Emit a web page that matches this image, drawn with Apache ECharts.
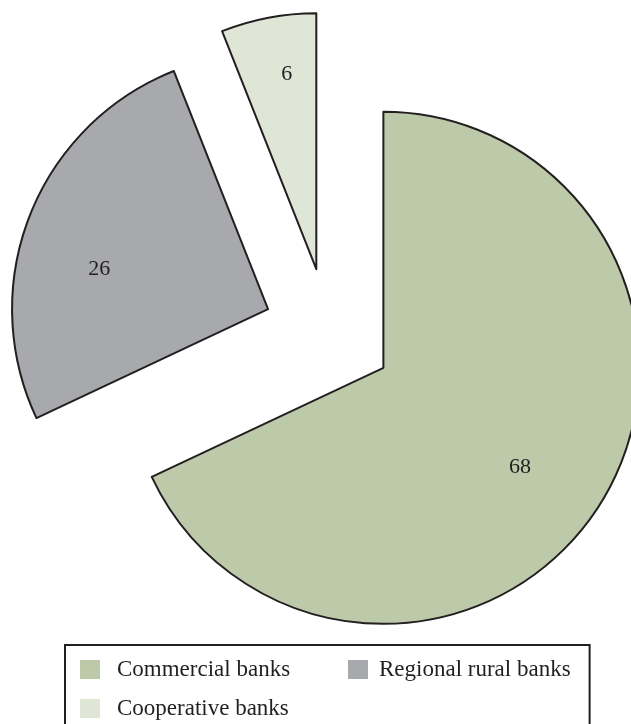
<!DOCTYPE html>
<html>
<head>
<meta charset="utf-8">
<script src="https://cdn.jsdelivr.net/npm/echarts@6/dist/echarts.min.js"></script>
<style>
  html, body { margin: 0; padding: 0; background: #ffffff; }
  #chart { width: 631px; height: 724px; }
</style>
</head>
<body>
<div id="chart"></div>
<script>
// Share of institutions, per cent
const categories = ['Commercial banks', 'Regional rural banks', 'Cooperative banks'];
const shares = [68, 26, 6];

// Styling
const sliceColors = ['#bccaa9', '#a8a9ad', '#dfe6d6'];
const labelShift = [[26, 29], [-47, 8], [-5, -66]];
const ink = '#231f20';
const serif = '"Liberation Serif", "Times New Roman", serif';

const chart = echarts.init(document.getElementById('chart'), null, { renderer: 'canvas' });

const pieData = categories.map((name, i) => ({
  name: name,
  value: shares[i],
  selected: true,
  itemStyle: { color: sliceColors[i] },
  select: { itemStyle: { color: sliceColors[i], borderColor: ink, borderWidth: 2 } }
}));

chart.setOption({
  animation: false,
  backgroundColor: '#ffffff',
  legend: {
    left: 65,
    top: 645,
    width: 530,
    orient: 'horizontal',
    padding: [13, 19, 24, 15],
    itemGap: 16,
    itemWidth: 20,
    itemHeight: 19,
    icon: 'rect',
    itemStyle: { borderWidth: 0 },
    borderColor: ink,
    borderWidth: 2,
    selectedMode: false,
    textStyle: {
      fontFamily: serif,
      fontSize: 23,
      lineHeight: 20,
      color: ink,
      padding: [0, 0, 0, 12]
    },
    data: [
      { name: categories[0], textStyle: { width: 215 } },
      { name: categories[1], textStyle: { padding: [0, 0, 0, 6] } },
      { name: categories[2] }
    ]
  },
  series: [{
    type: 'pie',
    center: [328.5, 333],
    radius: 256,
    startAngle: 90,
    clockwise: true,
    selectedMode: 'multiple',
    selectedOffset: 65,
    avoidLabelOverlap: false,
    itemStyle: { borderColor: ink, borderWidth: 2 },
    label: {
      show: true,
      position: 'inside',
      formatter: '{c}',
      fontFamily: serif,
      fontSize: 22,
      color: ink
    },
    labelLayout: function (p) {
      return { dx: labelShift[p.dataIndex][0], dy: labelShift[p.dataIndex][1] };
    },
    labelLine: { show: false },
    emphasis: { disabled: true },
    data: pieData
  }]
});
</script>
</body>
</html>
